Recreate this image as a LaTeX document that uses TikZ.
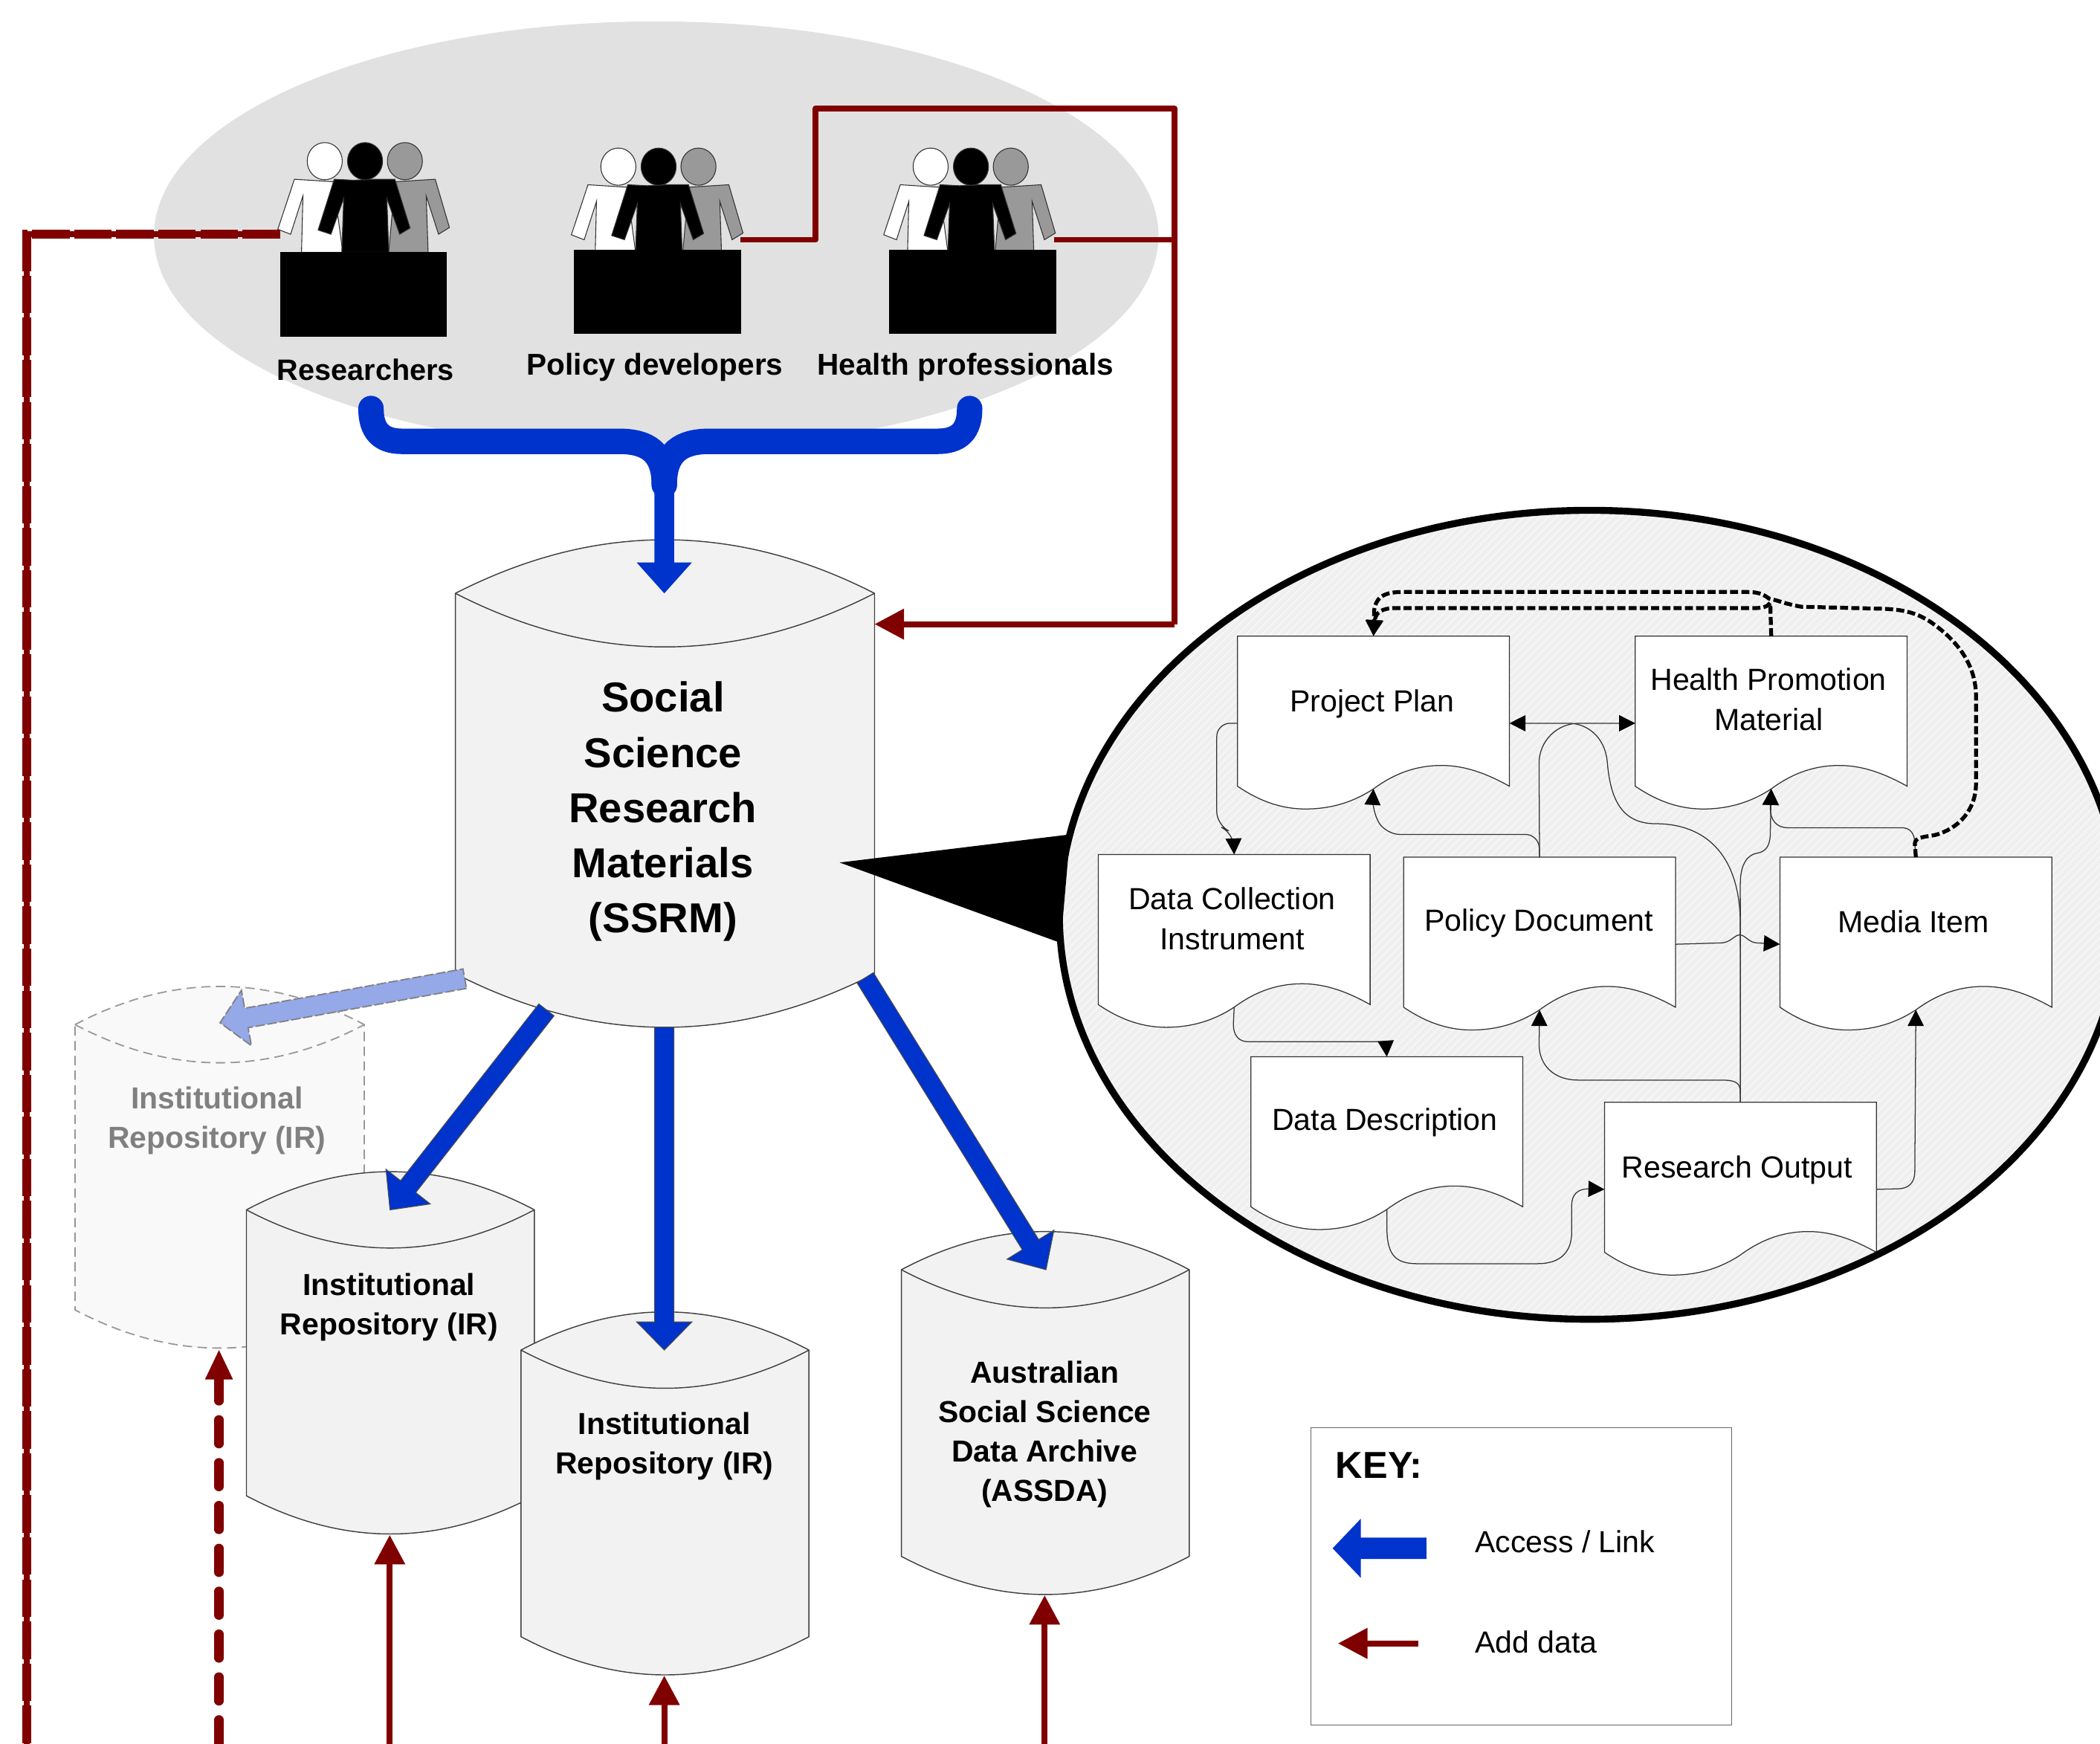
\documentclass[tikz,border=0pt]{standalone}
\usepackage{fontspec}
\setmainfont{Liberation Sans}
\usetikzlibrary{arrows.meta,calc}
\definecolor{redline}{HTML}{800000}
\definecolor{bluearrow}{HTML}{0033CC}
\definecolor{fadearrow}{HTML}{95A8E8}
\definecolor{cylfill}{HTML}{F2F2F2}
\definecolor{fadefill}{HTML}{F9F9F9}
\definecolor{crowd}{HTML}{E1E1E1}
\definecolor{zoomfill}{HTML}{EFEFEF}
\definecolor{hatch}{HTML}{F7F7F7}
\definecolor{midgray}{HTML}{999999}
\tikzset{
  x=0.5pt,y=-0.5pt,
  cylline/.style={draw=black!75,line width=0.4pt,fill=cylfill},
  cylfade/.style={draw=midgray,line width=0.5pt,dash pattern=on 3.5pt off 2pt,fill=fadefill},
  docline/.style={draw=black!80,line width=0.35pt,fill=white},
  doctext/.style={align=center,inner sep=0pt,font=\fontsize{11.4pt}{15pt}\selectfont},
  grouplabel/.style={inner sep=0pt,font=\bfseries\fontsize{11.25pt}{13pt}\selectfont},
  cyltext/.style={align=center,inner sep=0pt,font=\bfseries\fontsize{11.35pt}{14.7pt}\selectfont},
  bigtext/.style={align=center,inner sep=0pt,font=\bfseries\fontsize{15.6pt}{20.6pt}\selectfont},
  keytext/.style={anchor=west,inner sep=0pt,font=\fontsize{11.4pt}{14pt}\selectfont},
  addline/.style={draw=redline,line width=2.2pt,line join=round,-{Triangle[length=11pt,width=11pt]}},
  addplain/.style={draw=redline,line width=2.2pt,line join=round},
  linkthin/.style={draw=black!80,line width=0.35pt,-{Triangle[length=6pt,width=6pt,color=black,fill=black]}},
  linkdash/.style={draw=black,line width=1.45pt,dash pattern=on 3pt off 1.2pt,-{Triangle[length=6pt,width=6pt]}},
  bluefill/.style={fill=bluearrow,draw=black!70,line width=0.3pt},
  fadefillarrow/.style={fill=fadearrow,draw=gray,line width=0.5pt,dash pattern=on 3.5pt off 1pt},
}
\newcommand{\cylshape}[6]{% x0,x1,top corner,bottom corner,bulge,style
  \pgfmathsetmacro{\cxa}{#1+(#2-#1)/3}
  \pgfmathsetmacro{\cxb}{#1+2*(#2-#1)/3}
  \pgfmathsetmacro{\tup}{#3-4/3*#5}
  \pgfmathsetmacro{\tdn}{#3+4/3*#5}
  \pgfmathsetmacro{\bdn}{#4+4/3*#5}
  \draw[#6] (#1,#3) .. controls (\cxa,\tup) and (\cxb,\tup) .. (#2,#3) -- (#2,#4)
     .. controls (\cxb,\bdn) and (\cxa,\bdn) .. (#1,#4) -- cycle;
  \draw[#6,fill=none] (#1,#3) .. controls (\cxa,\tdn) and (\cxb,\tdn) .. (#2,#3);
}
\newcommand{\docshape}[6]{% name,x,y,text,text dx,text dy
  \begin{scope}[shift={(#2,#3)}]
    \draw[docline] (0,0) -- (203,0) -- (203,112)
      .. controls (186.8,103) and (170.5,96.5) .. (152.25,96.5)
      .. controls (130,96.5) and (113.7,105) .. (101.5,114)
      .. controls (89.3,122) and (73,129) .. (50.75,129)
      .. controls (32.5,129) and (16.2,123) .. (0,112) -- cycle;
    \coordinate (#1-n) at (101.5,0);
    \coordinate (#1-s) at (101.5,114);
    \coordinate (#1-w) at (0,65);
    \coordinate (#1-e) at (203,65);
    \node[doctext] (#1-t) at (#5,#6) {#4};
  \end{scope}
}
\newcommand{\peoplefig}[2]{% origin
  \begin{scope}[shift={(#1,#2)},xscale=.354,yscale=.185,draw=black!80,line width=0.3pt]
    \filldraw[fill=white] (30,-295) -- (112,-285) -- (132,0) -- (45,0) -- (48,-228) -- (22,-73) -- (-5,-93) -- cycle;
    \filldraw[fill=midgray] (327,-295) -- (242,-285) -- (229,0) -- (312,0) -- (308,-228) -- (334,-73) -- (357,-100) -- cycle;
    \filldraw[fill=black] (114,-295) -- (155,-291) -- (200,-295) -- (242,-295) -- (274,-98) -- (252,-73) -- (225,-218) -- (229,0) -- (130,0) -- (134,-218) -- (107,-73) -- (80,-90) -- cycle;
    \filldraw[fill=white] (94,-368) ellipse (37 and 75);
    \filldraw[fill=black] (179,-368) ellipse (37 and 75);
    \filldraw[fill=midgray] (263,-368) ellipse (37 and 75);
  \end{scope}
}
\newcommand{\blockarrow}[6]{% from,tip,shaft half,head half,head length,style
  \coordinate (ba-h) at ($(#2)!#5!(#1)$);
  \draw[#6] ($(#1)!#3!90:(#2)$) -- ($(ba-h)!#3!90:(#2)$) -- ($(ba-h)!#4!90:(#2)$) -- (#2)
    -- ($(ba-h)!#4!-90:(#2)$) -- ($(ba-h)!#3!-90:(#2)$) -- ($(#1)!#3!-90:(#2)$) -- cycle;
}
\begin{document}
\begin{tikzpicture}
\useasboundingbox (0,0) rectangle (1568,1302);
\clip (0,0) rectangle (1568,1302);
\fill[white] (0,0) rectangle (1568,1302);

% audience
\fill[crowd] (490,176) ellipse (375 and 160);
\peoplefig{209.2}{188.4}
\fill[black] (209.2,188.4) rectangle (333.8,251.7);
\peoplefig{428.4}{192.5}
\fill[black] (428.7,186.3) rectangle (553.3,249.3);
\peoplefig{661.6}{192.5}
\fill[black] (664.1,186.3) rectangle (788.7,249.3);
\node[grouplabel,font=\bfseries\fontsize{11pt}{13pt}\selectfont] (lres) at (273,276) {Researchers};
\node[grouplabel] (lpol) at (489,274) {Policy developers};
\node[grouplabel] (lhea) at (721,274) {Health professionals};

\coordinate (res) at (209,175);
\coordinate (pol) at (553,179);
\coordinate (hea) at (787,179);
\coordinate (busA) at (609,179);
\coordinate (busB) at (609,81);
\coordinate (busC) at (877,81);
\coordinate (busD) at (877,466);
\coordinate (ssrmR) at (653,466);
\coordinate (busE) at (877,179);
\coordinate (leftA) at (20,175);
\coordinate (leftB) at (20,1302);
\coordinate (dashB) at (163.5,1302);
\coordinate (dashT) at (163.5,1008);
\coordinate (dashH) at (163.5,1030);

% big zoom bubble
\fill[zoomfill] (1187,683) ellipse (396 and 302);
\begin{scope}
  \clip (1187,683) ellipse (396 and 302);
  \foreach \i in {170,176,...,1600}{
    \draw[hatch,line width=0.5pt] (\i,1000) -- ++(620,-620);
  }
\end{scope}
\docshape{pp}{924}{475}{Project Plan}{100.5}{50.5}
\docshape{hp}{1221}{475}{Health Promotion\\Material}{99.5}{47}
\docshape{dc}{820}{638}{Data Collection\\Instrument}{100}{48}
\docshape{pd}{1048}{640}{Policy Document}{101}{49.5}
\docshape{mi}{1329}{640}{Media Item}{99.5}{48}
\docshape{dd}{934}{789}{Data Description}{100}{49}
\docshape{ro}{1198}{823}{Research Output}{99}{50.5}
\draw[line width=2.6pt] (1187,683) ellipse (396 and 302);

\draw[linkthin,rounded corners=5pt] (pp-w) -- (908.5,540) -- (908.5,616) -- (920.9,622) -- (dc-n);
\draw[linkthin,rounded corners=5pt] (pd-n) -- (1149,623) -- (1035,623) -- (1024.5,606) -- (pp-s);
\draw[linkthin,rounded corners=15pt] (pd-n) -- (1149,540) -- (hp-w);
\draw[linkthin] (ro-n) -- (1299.4,690)
   .. controls (1299.4,640) and (1275,615) .. (1236,615)
   .. controls (1208,615) and (1202,592) .. (1200,568)
   .. controls (1198,550) and (1185,540) .. (1171,540) -- (pp-e);
\draw[linkthin] (ro-n) -- (1299.4,815) .. controls (1299.4,808) and (1295,806.4) .. (1285,806.4) -- (1178,806.4)
   .. controls (1160,806.4) and (1149.2,795) .. (1149.2,780) -- (pd-s);
\draw[linkthin] (ro-n) -- (1299.4,660) .. controls (1299.4,645) and (1305,638) .. (1312,637)
   .. controls (1318,636) and (1321.8,632) .. (1321.8,622) -- (hp-s);
\draw[linkthin] (mi-n) -- (1429.7,630) .. controls (1429.7,622) and (1426,618) .. (1420,618) -- (1335,618)
   .. controls (1326,618) and (1321.8,612) .. (1321.8,603) -- (hp-s);
\draw[linkthin] (pd-e) -- (1285,704) .. controls (1292,704) and (1295,698) .. (1299,698)
   .. controls (1303,698) and (1306,704) .. (1312,704) -- (mi-w);
\draw[linkthin] (dc-s) -- (920.9,765) .. controls (920.9,773) and (925,777.8) .. (932,777.8) -- (1028,777.8)
   .. controls (1033,777.8) and (1034.8,778) .. (1034.8,779) -- (dd-n);
\draw[linkthin] (dd-s) -- (1035.5,915) .. controls (1035.5,935) and (1040,943.5) .. (1058,943.5) -- (1148,943.5)
   .. controls (1165,943.5) and (1173.5,935) .. (1173.5,920) -- (1173.5,900)
   .. controls (1173.5,892) and (1178,887.6) .. (1186,887.6) -- (ro-w);
\draw[linkthin] (ro-e) -- (1417,887.6) .. controls (1425,887.6) and (1429.7,883) .. (1429.7,875) -- (mi-s);
\draw[linkdash] (mi-n) -- (1429.7,630) .. controls (1430,625) and (1436,625) .. (1444.6,623.5)
   .. controls (1462,619) and (1475.4,605) .. (1475.4,585) -- (1475.4,520)
   .. controls (1475.4,495) and (1460,478) .. (1444.6,466.6)
   .. controls (1432,457) and (1420,455) .. (1405,454.5) -- (1345,453)
   .. controls (1333,451) and (1327,448) .. (1321,447)
   .. controls (1316,443) and (1311,442) .. (1305,442) -- (1046.7,442)
   .. controls (1032,442) and (1027,447) .. (1026,456) -- (pp-n);
\draw[linkdash] (hp-n) -- (1321.8,450) .. controls (1320,453) and (1316,454) .. (1310,454) -- (1042,454)
   .. controls (1032,454) and (1027,457) .. (pp-n);

% repositories
\cylshape{56}{272}{765}{978}{28.5}{cylfade}
\node[cyltext,text=gray] (irfade) at (162,836.5) {Institutional\\Repository (IR)};
\cylshape{184}{399}{903.3}{1116.8}{28.5}{cylline}
\node[cyltext] (ira) at (290.5,976) {Institutional\\Repository (IR)};
\cylshape{389}{604}{1008}{1222}{28.5}{cylline}
\node[cyltext] (irb) at (496,1080) {Institutional\\Repository (IR)};
\cylshape{673}{888}{948}{1162}{28.5}{cylline}
\node[cyltext] (assda) at (780,1071) {Australian\\Social Science\\Data Archive\\(ASSDA)};
\cylshape{340}{653}{443}{727}{40}{cylline}
\node[bigtext] (ssrm) at (495,606) {Social\\Science\\Research\\Materials\\(SSRM)};

% callout wedge
\coordinate (calloutTip) at (627,644);
\coordinate (calloutA) at (799,623);
\coordinate (calloutB) at (792,704);
\fill[black] (calloutTip) -- (calloutA) -- (calloutB) -- cycle;

% add-data lines
\draw[addplain] (pol) -- (busA) -- (busB) -- (busC) -- (busD);
\draw[addline] (busD) -- (ssrmR);
\draw[addplain] (hea) -- (busE);
\draw[draw=redline,line width=2.2pt] (res) -- (leftA) -- (leftB);
\draw[draw=redline,line width=3.4pt,dash pattern=on 14pt off 1.7pt] (res) -- (leftA) -- (leftB);
\draw[draw=redline,line width=3.4pt,line cap=round,dash pattern=on 9pt off 7pt] (dashB) -- (dashH);
\fill[redline] (dashT) -- (174,1030) -- (153,1030) -- cycle;
\coordinate (ira-b) at (291,1146);
\coordinate (ira-o) at (291,1302);
\coordinate (irb-b) at (496,1251);
\coordinate (irb-o) at (496,1302);
\coordinate (assda-b) at (780,1191);
\coordinate (assda-o) at (780,1302);
\draw[addline] (ira-o) -- (ira-b);
\draw[addline] (irb-o) -- (irb-b);
\draw[addline] (assda-o) -- (assda-b);

% access links
\draw[bluearrow,line width=9.5pt,line cap=round] (277,305) .. controls (277,322) and (285,329.5) .. (300,329.5) -- (462,329.5)
   .. controls (483,329.5) and (496,337) .. (496,362);
\draw[bluearrow,line width=9.5pt,line cap=round] (724,305) .. controls (724,322) and (716,329.5) .. (700,329.5) -- (530,329.5)
   .. controls (509,329.5) and (496,337) .. (496,362);
\coordinate (trunk) at (496,352);
\coordinate (ssrmT) at (496,443);
\blockarrow{trunk}{ssrmT}{3.7pt}{10.3pt}{11.5pt}{fill=bluearrow,draw=none}
\coordinate (sA) at (408,754);
\coordinate (tA) at (291.2,903.3);
\blockarrow{sA}{tA}{3.6pt}{10.5pt}{11pt}{bluefill}
\coordinate (sB) at (496,767);
\coordinate (tB) at (496,1008);
\blockarrow{sB}{tB}{3.6pt}{10.3pt}{10.5pt}{bluefill}
\coordinate (sC) at (646,730);
\coordinate (tC) at (781,948);
\blockarrow{sC}{tC}{3.6pt}{10.3pt}{11pt}{bluefill}
\coordinate (sD) at (347,730.7);
\coordinate (tD) at (164.3,763.6);
\blockarrow{sD}{tD}{3.7pt}{10.5pt}{10pt}{fadefillarrow}

% key
\node[draw=black!60,line width=0.35pt,fill=white,minimum width=157pt,minimum height=111pt,inner sep=0pt] (keybox) at (1136,1177) {};
\node[anchor=west,inner sep=0pt,font=\bfseries\fontsize{14pt}{16pt}\selectfont] (keyhead) at (997,1094) {KEY:};
\coordinate (keyBs) at (1065,1156);
\coordinate (keyBt) at (995,1156);
\blockarrow{keyBs}{keyBt}{4pt}{11pt}{10.5pt}{fill=bluearrow,draw=none}
\node[keytext] (keyA) at (1101,1151) {Access / Link};
\coordinate (keyRs) at (1059,1227);
\coordinate (keyRt) at (999,1227);
\draw[addline] (keyRs) -- (keyRt);
\node[keytext] (keyD) at (1101,1226) {Add data};
\end{tikzpicture}
\end{document}
